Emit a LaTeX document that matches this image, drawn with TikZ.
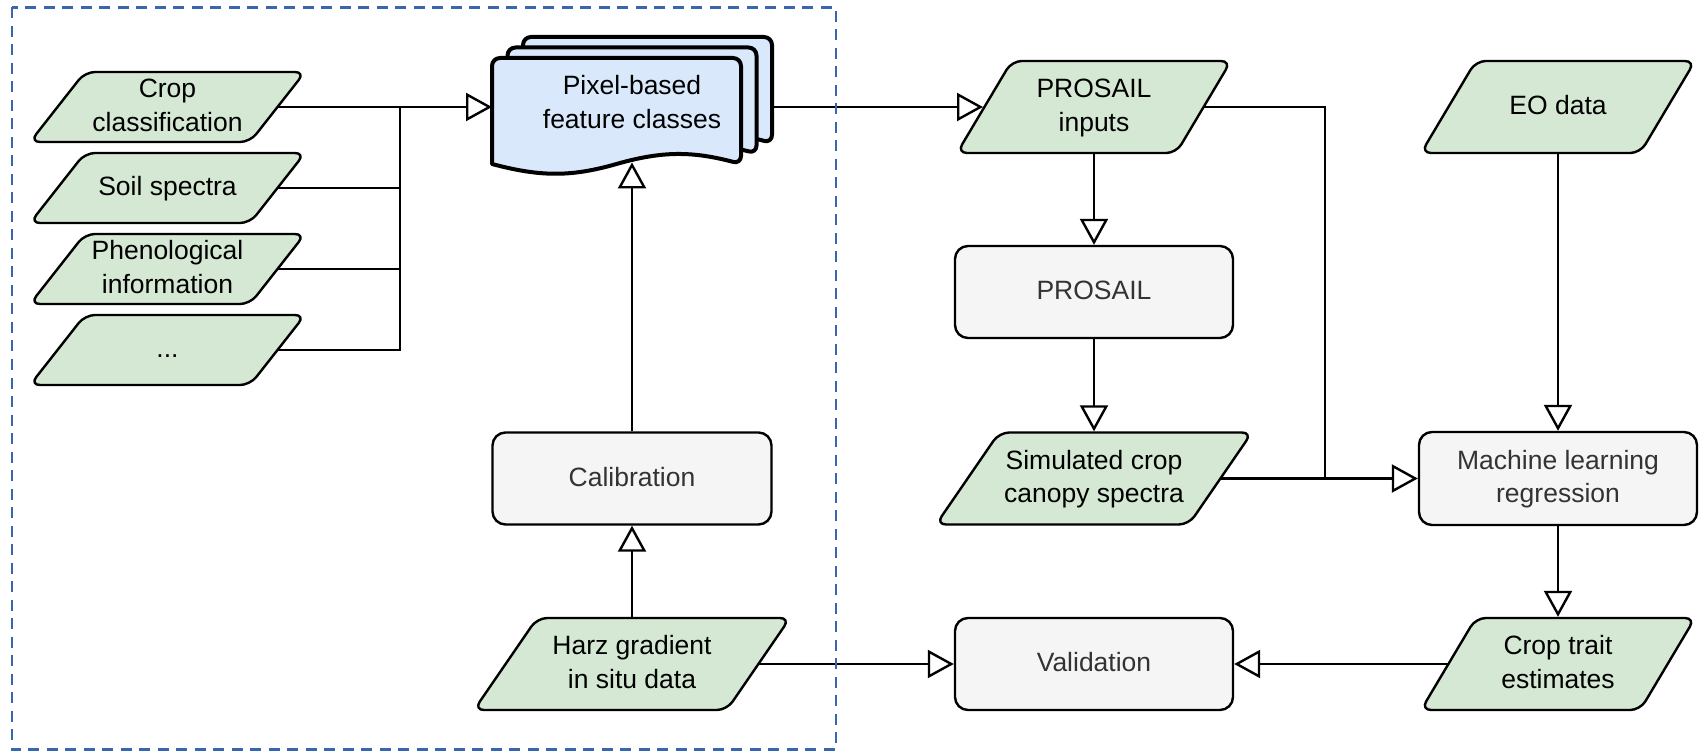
\documentclass[tikz,border=0pt]{standalone}
\usepackage{fontspec}
\setmainfont{Liberation Sans}
\usetikzlibrary{arrows.meta}

\definecolor{datagreen}{HTML}{D5E8D4}
\definecolor{procgray}{HTML}{F5F5F5}
\definecolor{docblue}{HTML}{DAE8FC}
\definecolor{txtgray}{HTML}{333333}
\definecolor{frameblue}{HTML}{3A66AD}

% fixed height above the first and depth below the last text line,
% so every label sits alike in its box
\newcommand{\up}{\rule{0pt}{25pt}}
\newcommand{\dn}{\rule[-10pt]{0pt}{10pt}}

% data symbol: a slanted box (slant = a fifth of its width) with its label;
% #1 name, #2 centre x, #3 centre y, #4 width, #5 height, #6 label.
% (#1-l) and (#1-r) are the midpoints of its slanted sides.
\newcommand{\datanode}[6]{%
  \draw[datashape] (#2-#4/2+#4/5, #3-#5/2) -- (#2+#4/2, #3-#5/2)
    -- (#2+#4/2-#4/5, #3+#5/2) -- (#2-#4/2, #3+#5/2) -- cycle;
  \node[datatext, minimum width=#4pt, minimum height=#5pt] (#1) at (#2,#3) {\up #6\dn};
  \coordinate (#1-l) at (#2-#4/2+#4/10, #3);
  \coordinate (#1-r) at (#2+#4/2-#4/10, #3);}

% one page of the stacked document symbol, top-left corner at (#1,#2)
\newcommand{\docpage}[2]{%
  \draw[docpage] (#1,#2+106) [rounded corners=8pt] -- (#1,#2) -- (#1+249,#2)
    -- (#1+249,#2+106) [sharp corners]
    .. controls (#1+200,#2+93) and (#1+170,#2+93) .. (#1+124.5,#2+106)
    .. controls (#1+79,#2+119) and (#1+49,#2+119) .. (#1,#2+106) -- cycle;}

\begin{document}
\begin{tikzpicture}[x=1pt, y=-1pt,
  font=\fontsize{26.5}{33.5}\selectfont,
  datashape/.style={draw, fill=datagreen, line width=2.4pt, rounded corners=10pt},
  datatext/.style={rectangle, inner sep=0pt, outer sep=0pt, align=center},
  proc/.style={rectangle, draw, fill=procgray, line width=2.4pt,
    rounded corners=13pt, text=txtgray, align=center,
    minimum width=278pt, minimum height=92pt, inner sep=0pt},
  docpage/.style={draw, fill=docblue, line width=4pt, line join=round},
  link/.style={draw, line width=2.4pt},
  arr/.style={link, -{Triangle[open, length=26pt, width=28pt]}},
]
\useasboundingbox (0,0) rectangle (1706,751);

% input data sets on the left
\datanode{crop}{167.5}{107}{275}{70}{Crop\\classification}
\datanode{soil}{167.5}{188}{275}{70}{Soil spectra}
\datanode{phen}{167.5}{269}{275}{70}{Phenological\\information}
\datanode{dots}{167.5}{350}{275}{70}{...}

% stacked feature-class documents
\docpage{523}{37}
\docpage{507.5}{47.5}
\docpage{492}{58}
\node[datatext, minimum width=280pt, minimum height=110pt] (pix) at (632,104)
  {\up Pixel-based\\feature classes\dn};
\coordinate (pixwave) at (632,162.5);

% calibration branch
\node[proc, minimum width=279pt] (cal) at (632,478.5) {\up Calibration\dn};
\datanode{harz}{632}{664}{316}{92}{Harz gradient\\in situ data}

% PROSAIL simulation chain
\datanode{pin}{1094}{107}{274}{92}{PROSAIL\\inputs}
\node[proc] (prosail) at (1094,292) {\up PROSAIL\dn};
\datanode{sim}{1094}{478.5}{316}{92}{Simulated crop\\canopy spectra}
\node[proc] (val) at (1094,664) {\up Validation\dn};

% retrieval chain
\datanode{eo}{1558}{107}{274}{92}{EO data}
\node[proc, minimum height=93pt] (ml) at (1558,478.5) {\up Machine learning\\regression\dn};
\datanode{trait}{1558}{664}{274}{92}{Crop trait\\estimates}

% connectors
\coordinate (bus) at (400,107);
\coordinate (merge) at (1325,478.5);
\draw[arr] (crop-r) -- (pix.west |- crop-r);
\draw[link] (soil-r) -| (bus);
\draw[link] (phen-r) -| (bus);
\draw[link] (dots-r) -| (bus);
\draw[arr] (pix.east |- pin-l) -- ([xshift=-1.4pt]pin-l);
\draw[arr] (pin.south) -- (prosail.north);
\draw[arr] (prosail.south) -- ([yshift=1.2pt]sim.north);
\draw[link] (pin-r) -| (merge);
\draw[arr] (sim-r) -- (ml.west);
\draw[arr] (eo.south) -- (ml.north);
\draw[arr] (ml.south) -- ([yshift=1.2pt]trait.north);
\draw[arr] (trait-l) -- (val.east);
\draw[arr] (harz-r) -- (val.west);
\draw[arr] (harz.north) -- (cal.south);
\draw[arr] (cal.north) -- (pixwave);

% dashed frame around the feature-class preparation
\draw[frameblue, line width=2.4pt, dash pattern=on 11pt off 7.5pt]
  (11.7,7.5) rectangle (836,749.5);
\end{tikzpicture}
\end{document}
